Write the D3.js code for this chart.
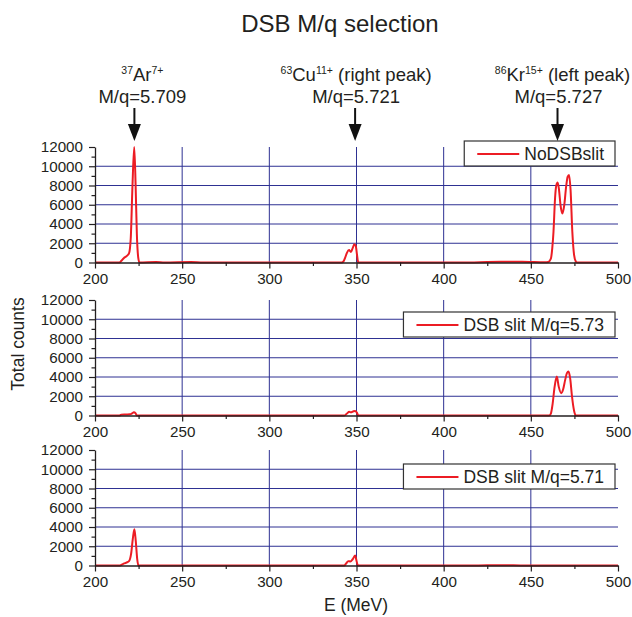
<!DOCTYPE html>
<html>
<head>
<meta charset="utf-8">
<script src="https://cdn.jsdelivr.net/npm/d3@7"></script>
<style>
    body { margin: 0; background: #fff; }
    svg { font-family: "Liberation Sans", Arial, sans-serif; }
</style>
</head>
<body>
<svg width="632" height="617"></svg>
<script>
// ---- data ----
const xTicks = [200, 250, 300, 350, 400, 450, 500];
const xMinorTicks = [225, 275, 325, 375, 425, 475];
const yTicks = [0, 2000, 4000, 6000, 8000, 10000, 12000];
const yMinorTicks = [1000, 3000, 5000, 7000, 9000, 11000];

const seriesNames = ['NoDSBslit', 'DSB slit M/q=5.73', 'DSB slit M/q=5.71'];

const noSlitE = [200, 214, 215, 216.5, 218, 219.5, 220.5, 221.5, 222.5, 223.3, 224, 224.8, 225.5,
    235, 240, 255, 262, 341.5, 342.5, 343.5, 344.5, 345.7, 346.8, 347.8, 348.8, 349.6, 350.3, 351,
    415, 425, 435, 445, 452, 458, 460, 461.5, 462.3, 463, 463.9, 464.6, 465.4, 466.2, 467, 468.1,
    469.2, 470.2, 471.1, 471.9, 472.8, 473.8, 474.8, 475.8, 476.4, 500];
const noSlitCounts = [0, 0, 150, 450, 650, 950, 2500, 8000, 12000, 8000, 3000, 500, 0,
    50, 0, 40, 0, 0, 100, 500, 1000, 1300, 1100, 1500, 1900, 1700, 800, 0,
    0, 60, 80, 90, 40, 20, 60, 400, 1500, 3200, 6700, 8000, 8300, 7500, 6000, 5100,
    6000, 7800, 8900, 9100, 7500, 3200, 800, 100, 0, 0];

const slit573E = [200, 214, 215, 218, 220, 221.5, 222.3, 223.2, 224,
    343, 344.5, 345.8, 346.8, 348, 349.2, 350.2, 351,
    460.5, 461.5, 462.5, 463.5, 464.9, 466, 467.4, 468.5, 469.7, 470.7, 471.6, 472.6, 473.6, 474.8, 475.8, 500];
const slit573Counts = [0, 0, 80, 100, 120, 250, 350, 250, 0,
    0, 200, 380, 330, 420, 480, 300, 0,
    0, 200, 1200, 2800, 4050, 3000, 2320, 2700, 3700, 4400, 4560, 3800, 2000, 500, 0, 0];

const slit571E = [200, 214.3, 216, 218, 219.5, 220.7, 221.7, 222.6, 223.4, 224.2, 224.9,
    343, 344, 345.3, 346.5, 347.8, 349.2, 350, 350.8, 420, 430, 440, 450, 500];
const slit571Counts = [0, 0, 150, 300, 450, 1200, 2800, 3760, 2500, 700, 0,
    0, 200, 450, 420, 650, 1030, 500, 0, 0, 30, 20, 0, 0];

const peakLabels = [
    { iso: '37', el: 'Ar', charge: '7+', note: '', mq: 'M/q=5.709', e: 222.6, dx: 8, dx1: 8 },
    { iso: '63', el: 'Cu', charge: '11+', note: ' (right peak)', mq: 'M/q=5.721', e: 349.2, dx: 1, dx1: 1 },
    { iso: '86', el: 'Kr', charge: '15+', note: ' (left peak)', mq: 'M/q=5.727', e: 465.3, dx: 1, dx1: 5 }
];

// ---- layout ----
const svg = d3.select('svg');
const width = +svg.attr('width');

const margin = { left: 95, right: 14 };
const innerWidth = width - margin.left - margin.right;
const panelTops = [147, 300, 450];
const panelHeight = 115.5;
const legendTops = [-6, 12, 14];
const red = '#ec1c24';
const gridColor = '#2e3192';
const ink = '#231f20';

const xScale = d3.scaleLinear().domain([200, 500]).range([0, innerWidth]);
const yScale = d3.scaleLinear().domain([0, 12000]).range([panelHeight, 0]);

const panels = [
    { E: noSlitE, counts: noSlitCounts },
    { E: slit573E, counts: slit573Counts },
    { E: slit571E, counts: slit571Counts }
];

const line = d3.line()
    .x(d => xScale(d[0]))
    .y(d => yScale(d[1]))
    .curve(d3.curveMonotoneX);

const styleAxis = sel => {
    sel.selectAll('.domain').attr('stroke', ink).attr('stroke-width', 1.3);
    sel.selectAll('.tick line').attr('stroke', ink).attr('stroke-width', 1.2);
    sel.selectAll('text').attr('fill', ink).style('font-size', '15.2px')
        .style('font-family', '"Liberation Sans", Arial, sans-serif');
};

panels.forEach((p, i) => {
    const g = svg.append('g')
        .attr('transform', `translate(${margin.left}, ${panelTops[i]})`);

    // grid
    g.selectAll('.hgrid').data(yTicks.slice(1, -1))
        .enter().append('line')
            .attr('x1', 0).attr('x2', innerWidth)
            .attr('y1', d => yScale(d)).attr('y2', d => yScale(d))
            .attr('stroke', gridColor).attr('stroke-width', 1);
    g.selectAll('.vgrid').data(xTicks.slice(1, -1))
        .enter().append('line')
            .attr('x1', d => xScale(d)).attr('x2', d => xScale(d))
            .attr('y1', 0).attr('y2', panelHeight)
            .attr('stroke', gridColor).attr('stroke-width', 1);

    // data line
    const pts = p.E.map((e, j) => [e, p.counts[j]]);
    g.append('path')
        .datum(pts)
        .attr('d', line)
        .attr('fill', 'none')
        .attr('stroke', red)
        .attr('stroke-width', 2)
        .attr('stroke-linejoin', 'round');

    // axes (minor ticks first, then major with labels)
    g.append('g')
        .attr('transform', `translate(0, ${panelHeight})`)
        .call(d3.axisBottom(xScale).tickValues(xMinorTicks).tickSize(3.5).tickFormat(''))
        .call(s => s.select('.domain').remove())
        .call(styleAxis);
    g.append('g')
        .attr('transform', `translate(0, ${panelHeight})`)
        .call(d3.axisBottom(xScale).tickValues(xTicks).tickSize(6).tickSizeOuter(0).tickPadding(5))
        .call(styleAxis);

    g.append('g')
        .call(d3.axisLeft(yScale).tickValues(yMinorTicks).tickSize(3.5).tickFormat(''))
        .call(s => s.select('.domain').remove())
        .call(styleAxis);
    g.append('g')
        .call(d3.axisLeft(yScale).tickValues(yTicks).tickSize(6).tickSizeOuter(0)
            .tickPadding(6).tickFormat(d3.format('d')))
        .call(styleAxis);

    // legend
    const lg = g.append('g');
    const box = lg.append('rect')
        .attr('fill', '#fff').attr('stroke', '#333').attr('stroke-width', 1.2);
    const txt = lg.append('text')
        .attr('fill', ink)
        .style('font-size', '17.5px')
        .text(seriesNames[i]);
    const tw = txt.node().getComputedTextLength();
    const boxW = tw + 71;
    const boxH = 25;
    const bx = innerWidth - 3 - boxW;
    const by = legendTops[i];
    box.attr('x', bx).attr('y', by).attr('width', boxW).attr('height', boxH);
    lg.append('line')
        .attr('x1', bx + 13).attr('x2', bx + 55)
        .attr('y1', by + boxH / 2 + 0.5).attr('y2', by + boxH / 2 + 0.5)
        .attr('stroke', red).attr('stroke-width', 2);
    txt.attr('x', bx + 60).attr('y', by + boxH / 2 + 6.5);
});

// title
svg.append('text')
    .attr('x', 340).attr('y', 32)
    .attr('text-anchor', 'middle')
    .attr('fill', ink)
    .style('font-size', '24px')
    .text('DSB M/q selection');

// axis labels
svg.append('text')
    .attr('x', 356).attr('y', 611)
    .attr('text-anchor', 'middle')
    .attr('fill', ink)
    .style('font-size', '17.5px')
    .text('E (MeV)');

svg.append('text')
    .attr('transform', 'translate(24, 344) rotate(-90)')
    .attr('text-anchor', 'middle')
    .attr('fill', ink)
    .style('font-size', '17.5px')
    .text('Total counts');

// peak annotations with arrows
peakLabels.forEach(d => {
    const x = margin.left + xScale(d.e);
    const t1 = svg.append('text')
        .attr('x', x + d.dx1).attr('y', 81)
        .attr('text-anchor', 'middle')
        .attr('fill', ink)
        .style('font-size', '18.5px');
    t1.append('tspan').text(d.iso).style('font-size', '10.5px').attr('dy', -7);
    t1.append('tspan').text(d.el).attr('dy', 7);
    t1.append('tspan').text(d.charge).style('font-size', '10.5px').attr('dy', -7);
    t1.append('tspan').text(d.note).attr('dy', 7);

    svg.append('text')
        .attr('x', x + d.dx).attr('y', 103)
        .attr('text-anchor', 'middle')
        .attr('fill', ink)
        .style('font-size', '18.5px')
        .text(d.mq);

    svg.append('line')
        .attr('x1', x).attr('x2', x)
        .attr('y1', 108).attr('y2', 128)
        .attr('stroke', '#111').attr('stroke-width', 2);
    svg.append('path')
        .attr('d', `M${x - 6.5},124 L${x + 6.5},124 L${x},141 Z`)
        .attr('fill', '#111');
});
</script>
</body>
</html>
